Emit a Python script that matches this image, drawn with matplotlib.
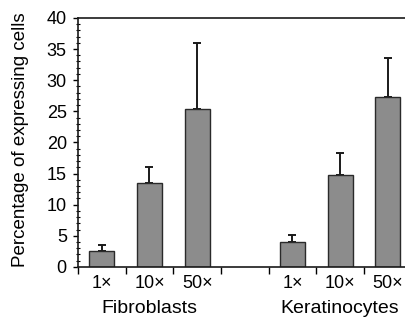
import matplotlib
matplotlib.use('Agg')
import matplotlib.pyplot as plt
from matplotlib.ticker import MultipleLocator
import matplotlib.transforms as mtransforms

plt.rcParams['font.family'] = ['Liberation Sans', 'DejaVu Sans']

# values
groups = ['Fibroblasts', 'Keratinocytes']
doses = ['1×', '10×', '50×']
fibro_mean = [2.6, 13.5, 25.4]
fibro_err = [0.9, 2.6, 10.6]
kera_mean = [4.0, 14.8, 27.3]
kera_err = [1.1, 3.5, 6.3]

fig = plt.figure(figsize=(4.06, 3.2), dpi=100)
ax = fig.add_axes([0.192, 0.166, 0.822, 0.778])

fibro_x = [0.5, 1.5, 2.5]
kera_x = [4.5, 5.5, 6.5]
xs = fibro_x + kera_x
means = fibro_mean + kera_mean
errs = fibro_err + kera_err

ax.bar(xs, means, width=0.52, color='#8c8c8c', edgecolor='#2a2a2a',
       linewidth=1.0, zorder=2)
ax.errorbar(xs, means, yerr=[[0] * len(errs), errs], fmt='none',
            ecolor='#1a1a1a', elinewidth=1.4, capsize=3, capthick=1.4,
            zorder=1)

ax.set_xlim(0, 7)
ax.set_ylim(0, 40)

ax.yaxis.set_major_locator(MultipleLocator(5))
ax.yaxis.set_minor_locator(MultipleLocator(1))
ax.tick_params(axis='y', which='major', direction='out', length=3.5,
               width=1, labelsize=13, pad=4.5)
ax.tick_params(axis='y', which='minor', direction='inout', length=3,
               width=0.8)

ax.set_xticks(range(0, 8))
ax.set_xticklabels([])
ax.set_xticks(xs, minor=True)
ax.set_xticklabels(doses + doses, minor=True)
ax.tick_params(axis='x', which='major', direction='out', length=5, width=1)
ax.tick_params(axis='x', which='minor', length=0, labelsize=13, pad=6)

for s in ax.spines.values():
    s.set_linewidth(1.2)
    s.set_color('#1a1a1a')

trans = mtransforms.blended_transform_factory(ax.transData, ax.transAxes)
ax.text(1.5, -0.133, groups[0], transform=trans, ha='center', va='top',
        fontsize=14)
ax.text(5.5, -0.133, groups[1], transform=trans, ha='center', va='top',
        fontsize=14)

ax.set_ylabel('Percentage of expressing cells', fontsize=13.5)
ax.yaxis.set_label_coords(-0.148, 0.51)

fig.savefig('out.png', dpi=100)
